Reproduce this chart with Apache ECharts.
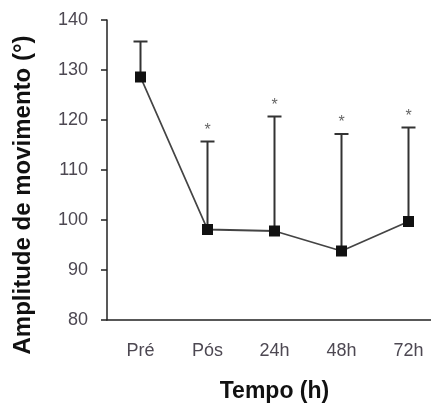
<!DOCTYPE html>
<html>
<head>
<meta charset="utf-8">
<script src="https://cdn.jsdelivr.net/npm/echarts@6/dist/echarts.min.js"></script>
<style>
  html, body { margin: 0; padding: 0; background: #fff; }
  #chart { width: 431px; height: 406px; }
</style>
</head>
<body>
<div id="chart"></div>
<script>
// dados
const tempos = ['Pré', 'Pós', '24h', '48h', '72h'];
const medias = [128.6, 98.1, 97.8, 93.8, 99.7];
const limiteSuperior = [135.7, 115.7, 120.7, 117.2, 118.5];
const marcas = ['', '*', '*', '*', '*'];
const yTicks = [80, 90, 100, 110, 120, 130, 140];

const chart = echarts.init(document.getElementById('chart'));

const labelColor = '#4d4852';
const font = 'Liberation Sans, Arial, sans-serif';

const option = {
  animation: false,
  backgroundColor: '#fff',
  grid: { left: 107, top: 20, width: 335, height: 300, outerBoundsMode: 'none' },
  xAxis: {
    type: 'category',
    data: tempos,
    boundaryGap: true,
    name: 'Tempo (h)',
    nameLocation: 'middle',
    nameGap: 60,
    nameTextStyle: { fontFamily: font, fontSize: 23, fontWeight: 'bold', color: '#111' },
    axisLine: { lineStyle: { color: '#222', width: 1.5 } },
    axisTick: { alignWithLabel: true, length: 6, lineStyle: { color: '#222', width: 1.5 } },
    axisLabel: { margin: 22, fontFamily: font, fontSize: 18, color: labelColor },
    splitLine: { show: false }
  },
  yAxis: {
    type: 'value',
    min: yTicks[0],
    max: yTicks[yTicks.length - 1],
    interval: 10,
    name: 'Amplitude de movimento (°)',
    nameLocation: 'middle',
    nameGap: 72,
    nameTextStyle: {
      fontFamily: font, fontSize: 24, fontWeight: 'bold', color: '#111',
      padding: [0, 50, 0, 0]
    },
    axisLine: { show: true, lineStyle: { color: '#222', width: 1.5 } },
    axisTick: { show: true, length: 6, lineStyle: { color: '#222', width: 1.5 } },
    axisLabel: { margin: 19, fontFamily: font, fontSize: 18, color: labelColor },
    splitLine: { show: false }
  },
  series: [
    {
      // barras de erro (só a parte superior) + asterisco
      type: 'custom',
      z: 1,
      data: tempos.map((t, i) => [i, medias[i], limiteSuperior[i]]),
      encode: { x: 0, y: [1, 2] },
      renderItem: function (params, api) {
        const base = api.coord([api.value(0), api.value(1)]);
        const topo = api.coord([api.value(0), api.value(2)]);
        const meia = 7;
        const estilo = { stroke: '#333', lineWidth: 2 };
        const filhos = [
          { type: 'line', shape: { x1: base[0], y1: base[1], x2: topo[0], y2: topo[1] }, style: estilo },
          { type: 'line', shape: { x1: topo[0] - meia, y1: topo[1], x2: topo[0] + meia, y2: topo[1] }, style: estilo }
        ];
        const marca = marcas[params.dataIndex];
        if (marca) {
          filhos.push({
            type: 'text',
            style: {
              text: marca, x: topo[0], y: topo[1] - 3,
              align: 'center', verticalAlign: 'bottom',
              fontSize: 16, fontFamily: font, fill: '#666'
            }
          });
        }
        return { type: 'group', children: filhos };
      }
    },
    {
      type: 'line',
      z: 2,
      data: medias,
      symbol: 'rect',
      symbolSize: 11,
      itemStyle: { color: '#111' },
      lineStyle: { color: '#444', width: 1.8 }
    }
  ]
};

chart.setOption(option);
</script>
</body>
</html>
